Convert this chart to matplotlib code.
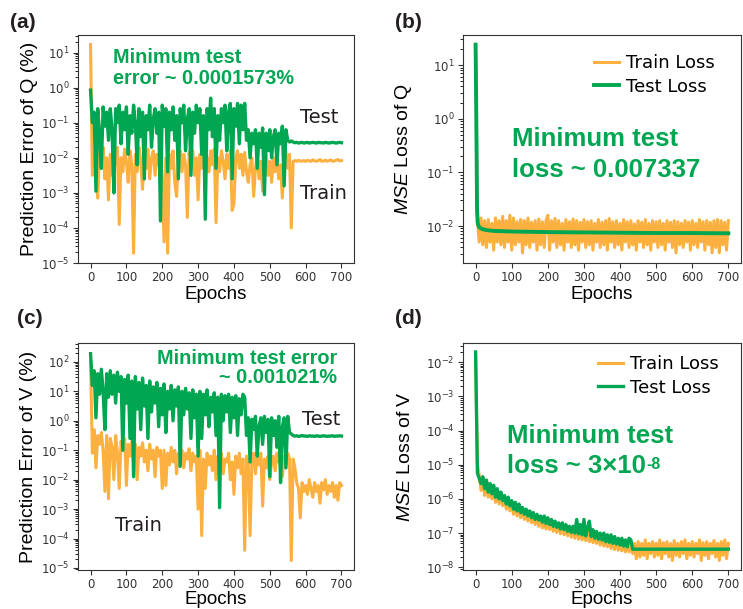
import numpy as np
import matplotlib.pyplot as plt
from matplotlib.ticker import LogLocator, NullFormatter

plt.rcParams['mathtext.rm'] = 'Liberation Sans'
plt.rcParams['mathtext.it'] = 'Liberation Sans:italic'
plt.rcParams['mathtext.bf'] = 'Liberation Sans:bold'

ORANGE = '#FBB040'
GREEN = '#00A651'
DARK = '#231F20'

# epochs sampled every 5 (0 ... 700)
epochs = np.arange(0, 705, 5)

# (a) prediction error of Q (%), log10 values
test_err_q = [
    -0.07, -1.0, -0.7, -2.95, -0.6, -1.3, -2.3, -0.55, -1.1, -0.7, -1.5, -0.6, -1.2, -3.0, -0.6, -1.0, -0.5, -1.6, -0.7, -1.2,
    -0.55, -1.9, -0.8, -1.3, -0.5, -1.0, -2.2, -0.6, -1.4, -0.7, -2.6, -0.8, -1.2, -0.5, -1.7, -0.9, -0.6, -1.3, -0.7, -3.8,
    -0.5, -1.1, -0.6, -2.4, -0.7, -1.2, -0.55, -1.5, -0.8, -2.6, -0.6, -1.0, -0.5, -1.8, -0.9, -0.6, -2.5, -0.7, -1.3, -0.5,
    -1.0, -0.6, -1.9, -0.8, -3.75, -0.6, -1.2, -0.3, -1.4, -0.6, -2.3, -0.8, -1.5, -0.6, -1.0, -0.5, -1.8, -0.7, -0.45, -2.6,
    -0.6, -1.1, -0.45, -1.6, -0.5, -1.2, -0.45, -1.5, -1.2, -2.0, -1.3, -1.6, -1.2, -2.3, -1.3, -1.7, -1.15, -3.05, -1.3, -1.8,
    -1.2, -2.0, -1.4, -1.2, -2.2, -1.3, -1.6, -1.1, -2.8, -1.2, -1.5, -1.55, -1.52, -1.55, -1.57, -1.56, -1.58, -1.57, -1.56, -1.58,
    -1.57, -1.56, -1.58, -1.57, -1.56, -1.57, -1.58, -1.56, -1.57, -1.57, -1.58, -1.56, -1.57, -1.58, -1.57, -1.56, -1.57, -1.58, -1.57, -1.56,
    -1.57,
]
train_err_q = [
    1.23, -2.5, -1.9, -2.4, -3.15, -1.8, -2.3, -1.7, -2.6, -2.0, -3.2, -1.9, -2.5, -1.8, -2.2, -1.7, -3.9, -2.0, -2.4, -1.75,
    -2.1, -2.7, -1.8, -2.2, -4.72, -1.9, -2.4, -1.7, -2.1, -2.9, -1.8, -2.3, -1.75, -2.6, -2.0, -1.8, -2.5, -1.9, -2.2, -1.75,
    -2.6, -4.4, -2.0, -4.72, -1.9, -2.3, -1.8, -2.7, -3.1, -2.0, -1.8, -2.4, -1.9, -2.2, -3.7, -1.85, -2.3, -1.8, -2.5, -2.0,
    -3.2, -1.9, -2.3, -1.7, -2.6, -2.0, -2.4, -1.8, -2.2, -1.75, -3.85, -2.0, -2.4, -1.8, -2.1, -2.6, -1.9, -2.3, -1.8, -3.5,
    -3.3, -2.0, -1.8, -2.3, -1.9, -2.5, -1.85, -2.4, -2.7, -2.2, -2.0, -3.1, -2.3, -1.9, -2.6, -2.1, -2.95, -2.3, -1.9, -2.5,
    -2.1, -2.7, -2.0, -2.4, -1.9, -2.6, -2.2, -3.15, -2.0, -1.85, -2.3, -1.9, -4.0, -2.1, -2.08, -2.1, -2.07, -2.1, -2.09, -2.08,
    -2.1, -2.07, -2.09, -2.1, -2.06, -2.09, -2.1, -2.08, -2.05, -2.1, -2.09, -2.07, -2.1, -2.08, -2.06, -2.1, -2.09, -2.07, -2.05, -2.09,
    -2.08,
]

# (b) MSE loss of Q
test_loss_q_epochs = [0, 2, 4, 6, 10, 15, 20, 30, 50, 75, 100, 150, 200, 300, 400, 500, 600, 700]
test_loss_q = [24, 1.0, 0.02, 0.011, 0.0095, 0.0090, 0.0087, 0.0084, 0.0081, 0.0080,
               0.0079, 0.0078, 0.0077, 0.0076, 0.0075, 0.0074, 0.0074, 0.0073]
train_loss_q = [  # log10
    1.2, -1.9, -2.3, -1.85, -2.35, -1.9, -2.4, -1.88, -2.3, -1.95, -2.45, -1.85, -2.3, -1.9, -2.35, -1.82, -2.4, -1.9, -2.3, -1.8,
    -2.45, -1.85, -2.35, -1.92, -2.3, -1.88, -2.5, -1.9, -2.35, -1.85, -2.4, -1.93, -2.3, -1.9, -2.45, -1.87, -2.35, -1.92, -2.4, -1.9,
    -1.8, -2.45, -1.9, -2.3, -1.86, -2.4, -1.9, -2.35, -1.95, -2.45, -1.88, -2.3, -1.92, -2.4, -1.87, -2.35, -1.9, -2.45, -1.93, -2.3,
    -1.88, -2.4, -1.92, -2.35, -1.9, -2.45, -1.95, -2.3, -1.88, -2.4, -1.93, -2.35, -1.9, -2.45, -1.86, -2.3, -1.92, -2.4, -1.9, -2.35,
    -1.95, -2.45, -1.88, -2.3, -1.92, -2.4, -1.9, -2.35, -1.96, -2.45, -1.9, -2.3, -1.93, -2.4, -1.88, -2.35, -1.95, -2.45, -1.9, -2.3,
    -1.92, -2.4, -1.9, -2.35, -1.95, -2.45, -1.9, -2.3, -1.93, -2.4, -1.9, -2.5, -1.92, -2.35, -1.95, -2.4, -1.9, -2.3, -1.93, -2.45,
    -1.9, -2.35, -1.95, -2.4, -1.88, -2.3, -1.92, -2.45, -1.9, -2.35, -1.93, -2.5, -1.9, -2.4, -1.88, -2.5, -1.9, -2.35, -1.93, -2.45,
    -1.9,
]

# (c) prediction error of V (%), log10 values
test_err_v = [
    2.28, 1.2, 1.7, 0.1, 1.6, 0.9, 1.75, 1.0, -0.3, 1.6, 0.8, 1.7, 0.9, 1.55, 0.6, 1.65, 1.0, 1.5, -1.0, 1.4,
    0.6, 1.55, -0.6, 1.35, -1.9, 1.5, 0.4, 1.3, -0.3, 1.45, 0.5, 1.2, -0.6, 1.35, 0.3, 1.15, 0.6, 1.3, -0.2, 1.1,
    0.2, 1.25, -0.4, 1.0, 0.4, 1.2, 0.0, 1.05, 0.5, 1.15, -1.55, 1.0, 0.2, 1.1, 0.4, 0.95, -0.6, 1.05, 0.1, 0.9,
    -1.2, 1.0, -0.6, 0.9, 0.2, 1.05, -0.2, 0.8, 0.3, 0.95, -0.5, 0.8, -2.95, 0.9, 0.0, 0.85, 0.3, 0.9, -0.4, 0.8,
    0.1, 0.85, -0.5, 0.75, 0.2, 0.9, 0.8, -0.5, 0.1, -1.4, 0.05, -0.3, 0.15, -1.2, -0.2, 0.1, -0.8, 0.15, -0.4, 0.05,
    -1.9, 0.1, -0.5, 0.0, -0.9, 0.15, -2.1, -0.2, 0.1, -1.6, 0.15, -0.4, -0.45, -0.5, -0.52, -0.51, -0.53, -0.52, -0.5, -0.52,
    -0.52, -0.53, -0.51, -0.52, -0.52, -0.53, -0.51, -0.52, -0.53, -0.52, -0.51, -0.52, -0.53, -0.52, -0.52, -0.51, -0.53, -0.52, -0.52, -0.51,
    -0.52,
]
train_err_v = [
    2.0, -1.1, -0.3, -1.6, -0.5, -0.8, -0.4, -1.0, -2.4, -0.5, -2.65, -0.6, -0.9, -2.0, -0.5, -1.1, -2.3, -0.7, -1.0, -0.6,
    -2.2, -0.8, -1.2, -0.7, -1.5, -0.8, -2.0, -0.9, -1.2, -0.75, -1.4, -1.0, -1.7, -0.8, -1.3, -1.0, -1.9, -0.9, -1.2, -1.0,
    -2.3, -1.0, -2.2, -1.1, -1.5, -0.9, -1.4, -1.0, -1.8, -1.1, -1.3, -1.0, -1.6, -1.1, -1.3, -0.95, -1.7, -1.1, -1.4, -1.2,
    -3.0, -1.0, -3.9, -1.3, -2.3, -1.1, -1.5, -1.2, -1.7, -1.0, -2.0, -1.2, -1.5, -1.1, -1.8, -1.3, -1.4, -1.1, -2.0, -1.4,
    -2.5, -1.2, -1.6, -1.1, -1.8, -1.3, -4.4, -1.2, -1.5, -3.9, -1.3, -1.1, -1.8, -1.2, -1.5, -1.1, -2.9, -1.3, -1.6, -1.2,
    -2.0, -1.4, -1.2, -1.7, -1.1, -1.4, -1.3, -1.9, -1.2, -1.5, -1.1, -1.3, -4.75, -1.3, -1.6, -2.1, -2.3, -3.3, -2.1, -2.4,
    -2.2, -2.5, -2.0, -2.3, -2.6, -2.1, -2.4, -2.2, -2.8, -2.1, -2.35, -2.0, -2.5, -2.2, -2.4, -2.1, -2.6, -2.2, -2.7, -2.1,
    -2.2,
]

# (d) MSE loss of V, log10 values
test_loss_v = [
    -1.7, -5.25, -5.4, -5.55, -5.35, -5.7, -5.45, -5.8, -5.55, -5.85, -5.6, -5.95, -5.7, -6.0, -5.8, -6.05, -5.9, -6.15, -5.95, -6.2,
    -6.05, -6.3, -6.1, -6.35, -6.15, -6.4, -6.25, -6.45, -6.3, -6.5, -6.35, -6.55, -6.4, -6.6, -6.45, -6.62, -6.5, -6.68, -6.5, -6.72,
    -6.55, -6.75, -6.6, -6.8, -6.65, -6.83, -6.7, -6.88, -6.7, -6.9, -6.75, -6.95, -6.8, -6.98, -6.8, -7.0, -6.6, -7.02, -6.75, -7.05,
    -6.6, -7.08, -6.85, -6.65, -7.1, -6.9, -7.15, -6.95, -7.18, -7.0, -7.2, -7.0, -7.25, -7.05, -7.27, -7.05, -7.3, -7.1, -7.32, -7.15,
    -7.35, -7.15, -7.38, -7.2, -7.4, -7.15, -7.2, -7.47, -7.47, -7.47, -7.47, -7.47, -7.47, -7.47, -7.47, -7.47, -7.47, -7.47, -7.47, -7.47,
    -7.47, -7.47, -7.47, -7.47, -7.47, -7.47, -7.47, -7.47, -7.47, -7.47, -7.47, -7.47, -7.47, -7.47, -7.47, -7.47, -7.47, -7.47, -7.47, -7.47,
    -7.47, -7.47, -7.47, -7.47, -7.47, -7.47, -7.47, -7.47, -7.47, -7.47, -7.47, -7.47, -7.47, -7.47, -7.47, -7.47, -7.47, -7.47, -7.47, -7.47,
    -7.47,
]
train_loss_v = [
    -1.8, -5.0, -5.3, -5.75, -5.4, -5.9, -5.45, -5.95, -5.6, -6.0, -5.65, -6.1, -5.8, -6.15, -5.85, -6.2, -5.95, -6.3, -6.0, -6.35,
    -6.1, -6.45, -6.15, -6.5, -6.25, -6.55, -6.3, -6.6, -6.35, -6.65, -6.4, -6.7, -6.45, -6.75, -6.5, -6.8, -6.55, -6.85, -6.55, -6.88,
    -6.6, -6.9, -6.65, -6.95, -6.7, -6.98, -6.72, -7.02, -6.75, -7.05, -6.8, -7.08, -6.82, -7.12, -6.85, -7.15, -6.75, -7.18, -6.9, -7.2,
    -6.9, -7.22, -6.95, -7.25, -7.0, -7.28, -7.0, -7.3, -7.05, -7.35, -7.05, -7.38, -7.1, -7.4, -7.12, -7.45, -7.15, -7.48, -7.2, -7.5,
    -7.22, -7.52, -7.25, -7.55, -7.28, -7.55, -7.3, -7.6, -7.3, -7.75, -7.25, -7.7, -7.3, -7.65, -7.2, -7.75, -7.3, -7.6, -7.25, -7.7,
    -7.3, -7.65, -7.2, -7.75, -7.28, -7.6, -7.25, -7.7, -7.3, -7.8, -7.22, -7.65, -7.3, -7.7, -7.25, -7.6, -7.2, -7.75, -7.3, -7.65,
    -7.25, -7.7, -7.3, -7.6, -7.2, -7.8, -7.28, -7.65, -7.25, -7.75, -7.3, -7.6, -7.22, -7.7, -7.3, -7.8, -7.25, -7.65, -7.2, -7.75,
    -7.3,
]


def style_axis(ax, ylabel, label_x, decades, xpad):
    lo, hi = decades
    ax.set_yscale('log')
    ax.set_xlim(-35, 735)
    ax.set_ylim(10.0 ** lo, 10.0 ** hi)
    ax.set_xticks(np.arange(0, 701, 100))
    # major ticks only at the decades that lie inside the view
    ax.set_yticks([10.0 ** k for k in range(int(np.ceil(lo)), int(np.floor(hi)) + 1)])
    ax.yaxis.set_minor_locator(LogLocator(base=10, subs=np.arange(2, 10), numticks=30))
    ax.yaxis.set_minor_formatter(NullFormatter())
    ax.tick_params(labelsize=8.5, colors='#333333', pad=2.5)
    for s in ax.spines.values():
        s.set_color('#333333')
    ax.set_xlabel('Epochs', fontsize=13.5, family='Liberation Sans', labelpad=xpad)
    ax.set_ylabel(ylabel, fontsize=14, family='Liberation Sans', math_fontfamily='custom')
    ax.yaxis.set_label_coords(label_x, 0.5)


def add_legend(ax, anchor):
    ax.legend(loc='upper right', bbox_to_anchor=anchor, borderaxespad=0, frameon=False,
              fontsize=13, handlelength=1.4, handletextpad=0.4, labelspacing=0.3)


fig = plt.figure(figsize=(7.43, 6.09), dpi=100)
ax_a = fig.add_axes([0.1050, 0.5681, 0.3715, 0.3744])
ax_b = fig.add_axes([0.6231, 0.5681, 0.3742, 0.3744])
ax_c = fig.add_axes([0.1050, 0.0640, 0.3715, 0.3727])
ax_d = fig.add_axes([0.6231, 0.0640, 0.3742, 0.3727])

# (a)
ax_a.plot(epochs, 10 ** np.array(train_err_q), color=ORANGE, lw=2.2)
ax_a.plot(epochs, 10 ** np.array(test_err_q), color=GREEN, lw=2.4)
style_axis(ax_a, 'Prediction Error of Q (%)', -0.145, (-5, 1.5), 1)
ax_a.text(0.127, 0.943, 'Minimum test\nerror ~ 0.0001573%', transform=ax_a.transAxes,
          color=GREEN, fontsize=14.3, fontweight='bold', family='Liberation Sans', va='top',
          linespacing=1.1)
ax_a.text(0.804, 0.613, 'Test', transform=ax_a.transAxes, fontsize=14, color=DARK)
ax_a.text(0.804, 0.279, 'Train', transform=ax_a.transAxes, fontsize=14, color=DARK)

# (b)
ax_b.plot(epochs, 10 ** np.array(train_loss_q), color=ORANGE, lw=2.2, label='Train Loss')
ax_b.plot(test_loss_q_epochs, test_loss_q, color=GREEN, lw=2.8, label='Test Loss')
style_axis(ax_b, r'$\mathit{MSE}$ Loss of Q', -0.176, (-2.69, 1.56), 1)
add_legend(ax_b, (0.932, 0.947))
ax_b.text(0.176, 0.596, 'Minimum test\nloss ~ 0.007337', transform=ax_b.transAxes,
          color=GREEN, fontsize=18.5, fontweight='bold', family='Liberation Sans', va='top',
          linespacing=1.35)

# (c)
ax_c.plot(epochs, 10 ** np.array(train_err_v), color=ORANGE, lw=2.2)
ax_c.plot(epochs, 10 ** np.array(test_err_v), color=GREEN, lw=2.4)
style_axis(ax_c, 'Prediction Error of V (%)', -0.147, (-5.07, 2.64), 0)
ax_c.text(0.938, 0.973, 'Minimum test error\n~ 0.001021%', transform=ax_c.transAxes,
          color=GREEN, fontsize=14.3, fontweight='bold', family='Liberation Sans',
          va='top', ha='right', multialignment='right', linespacing=1.0)
ax_c.text(0.812, 0.639, 'Test', transform=ax_c.transAxes, fontsize=14, color=DARK)
ax_c.text(0.134, 0.172, 'Train', transform=ax_c.transAxes, fontsize=14, color=DARK)

# (d)
ax_d.plot(epochs, 10 ** np.array(train_loss_v), color=ORANGE, lw=2.2, label='Train Loss')
ax_d.plot(epochs, 10 ** np.array(test_loss_v), color=GREEN, lw=2.4, label='Test Loss')
style_axis(ax_d, r'$\mathit{MSE}$ Loss of V', -0.176, (-8.08, -1.44), 0)
add_legend(ax_d, (0.946, 0.978))
note_kw = dict(color=GREEN, fontweight='bold', family='Liberation Sans')
ax_d.text(0.158, 0.559, 'Minimum test', transform=ax_d.transAxes, fontsize=18.5,
          va='baseline', **note_kw)
line2 = ax_d.text(0.158, 0.427, 'loss ~ 3×10', transform=ax_d.transAxes, fontsize=18.5,
                  va='baseline', **note_kw)
ax_d.annotate('-8', xy=(1, 1), xycoords=line2, xytext=(0.5, -2), textcoords='offset points',
              ha='left', va='top', fontsize=11.5, **note_kw)

# panel letters
for lab, x, y in [('(a)', 0.0135, 0.963), ('(b)', 0.532, 0.963),
                  ('(c)', 0.023, 0.477), ('(d)', 0.532, 0.477)]:
    fig.text(x, y, lab, fontsize=15, fontweight='bold', family='Liberation Sans',
             color=DARK, va='center')

fig.savefig('out.png', dpi=100)
